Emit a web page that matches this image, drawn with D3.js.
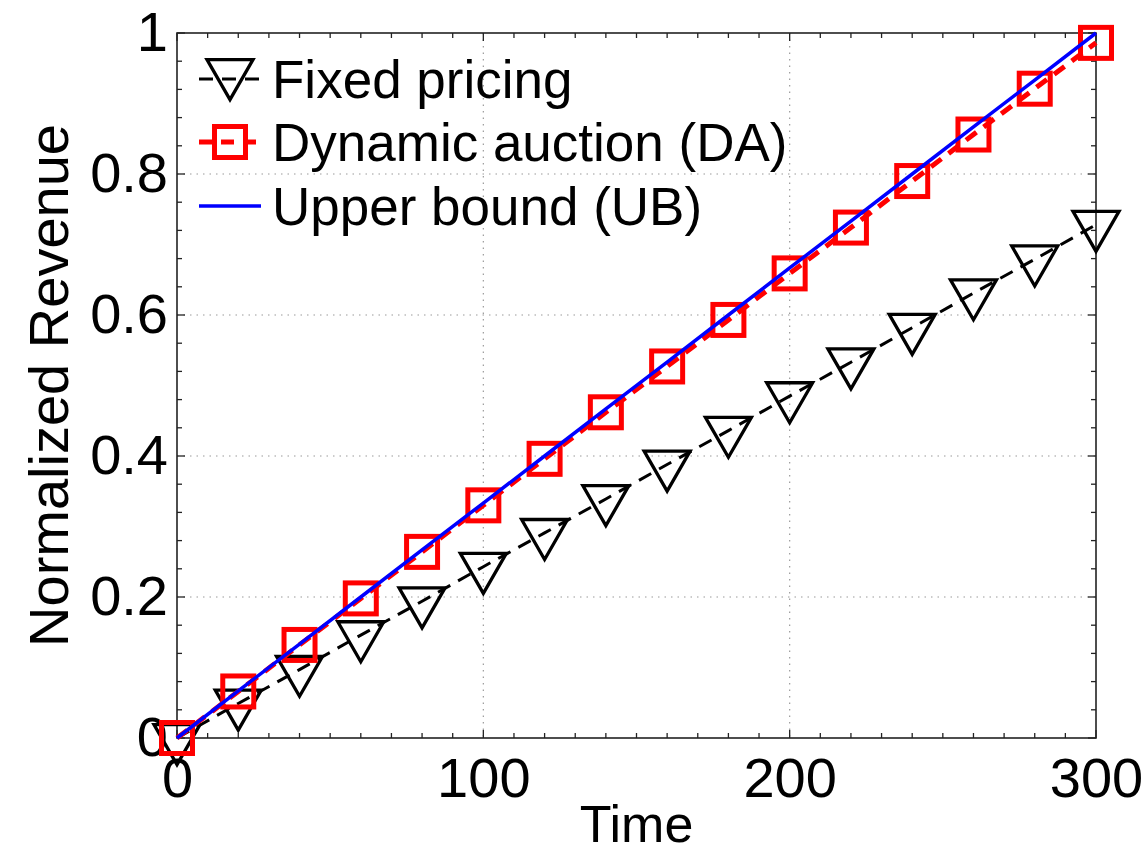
<!DOCTYPE html>
<html><head><meta charset="utf-8">
<script src="https://cdn.jsdelivr.net/npm/d3@7"></script>
<style>
html,body{margin:0;padding:0;background:#fff;}
svg{display:block;font-family:"Liberation Sans",Arial,Helvetica,sans-serif;}
</style></head>
<body><svg id="c" width="1145" height="854"></svg>
<script>
// ---- data ----
const timePoints = [0,20,40,60,80,100,120,140,160,180,200,220,240,260,280,300];
const fixedPricing = [0,0.049,0.097,0.146,0.194,0.243,0.291,0.339,0.388,0.436,0.485,0.533,0.582,0.631,0.679,0.728];
const dynamicAuction = [0,0.066,0.132,0.198,0.264,0.330,0.396,0.462,0.527,0.593,0.659,0.724,0.790,0.856,0.921,0.986];
const upperBound = [0,0.0667,0.1333,0.2,0.2667,0.3333,0.4,0.4667,0.5333,0.6,0.6667,0.7333,0.8,0.8667,0.9333,1];
const xTicks = [0,100,200,300];
const yTicks = [0,0.2,0.4,0.6,0.8,1];
const yTickLabels = ["0","0.2","0.4","0.6","0.8","1"];
const seriesNames = ["Fixed pricing","Dynamic auction (DA)","Upper bound (UB)"];

const svg = d3.select("#c");
const L=177,R=1096,T=33,B=738;
const x = d3.scaleLinear().domain([0,300]).range([L,R]);
const y = d3.scaleLinear().domain([0,1]).range([B,T]);
const axisColor="#222";

// grid
const grid = svg.append("g").attr("stroke","#9a9a9a").attr("stroke-width",1.2).attr("stroke-dasharray","1.5,5");
xTicks.filter(v=>v>0&&v<300).forEach(v=>grid.append("line").attr("x1",x(v)).attr("x2",x(v)).attr("y1",T).attr("y2",B));
yTicks.filter(v=>v>0&&v<1).forEach(v=>grid.append("line").attr("x1",L).attr("x2",R).attr("y1",y(v)).attr("y2",y(v)));

// ticks (inward, all four sides)
const tk = svg.append("g").attr("stroke",axisColor).attr("stroke-width",1.3);
d3.range(0,301,10).forEach(v=>{
  const major = v%100===0, len = major?8:5;
  tk.append("line").attr("x1",x(v)).attr("x2",x(v)).attr("y1",B).attr("y2",B-len);
  tk.append("line").attr("x1",x(v)).attr("x2",x(v)).attr("y1",T).attr("y2",T+len);
});
d3.range(0,26).map(i=>i*0.04).forEach((v,i)=>{
  const major = i%5===0, len = major?8:5;
  tk.append("line").attr("x1",L).attr("x2",L+len).attr("y1",y(v)).attr("y2",y(v));
  tk.append("line").attr("x1",R).attr("x2",R-len).attr("y1",y(v)).attr("y2",y(v));
});
svg.append("rect").attr("x",L).attr("y",T).attr("width",R-L).attr("height",B-T)
  .attr("fill","none").attr("stroke",axisColor).attr("stroke-width",1.6);

// tick labels via axes
const xAxis = svg.append("g").attr("transform",`translate(0,${B})`)
  .call(d3.axisBottom(x).tickValues(xTicks).tickSize(0).tickPadding(19).tickFormat(d3.format("d")));
xAxis.select(".domain").remove();
xAxis.selectAll("text").attr("font-size",56).attr("fill","#000").attr("font-family","Liberation Sans, Arial, sans-serif");
const yAxis = svg.append("g").attr("transform",`translate(${L},0)`)
  .call(d3.axisLeft(y).tickValues(yTicks).tickSize(0).tickPadding(9).tickFormat((d,i)=>yTickLabels[i]));
yAxis.select(".domain").remove();
yAxis.selectAll("text").attr("font-size",56).attr("fill","#000").attr("font-family","Liberation Sans, Arial, sans-serif");

// axis titles
svg.append("text").attr("x",(L+R)/2).attr("y",842).attr("text-anchor","middle")
  .attr("font-size",52).text("Time");
svg.append("text").attr("transform",`translate(68,${(T+B)/2}) rotate(-90)`).attr("text-anchor","middle")
  .attr("font-size",56).text("Normalized Revenue");

// series
const line = d3.line().x(d=>x(d[0])).y(d=>y(d[1]));
const fixedData = timePoints.map((t,i)=>[t,fixedPricing[i]]);
const daData = timePoints.map((t,i)=>[t,dynamicAuction[i]]);
const ubData = timePoints.map((t,i)=>[t,upperBound[i]]);

const tri = (cx,cy)=>{ // centroid at data point
  const w=23,h=40;
  return `M${cx-w},${cy-h/3}L${cx+w},${cy-h/3}L${cx},${cy+2*h/3}Z`;
};
const sq = 15.5;

svg.append("path").datum(fixedData).attr("d",line).attr("fill","none")
  .attr("stroke","#000").attr("stroke-width",3).attr("stroke-dasharray","14,9");
svg.append("g").selectAll("path").data(fixedData).join("path")
  .attr("d",d=>tri(x(d[0]),y(d[1]))).attr("fill","none").attr("stroke","#000").attr("stroke-width",3.3).attr("stroke-linejoin","miter");

svg.append("path").datum(daData).attr("d",line).attr("fill","none")
  .attr("stroke","#ff0000").attr("stroke-width",5).attr("stroke-dasharray","13,9");
svg.append("g").selectAll("rect").data(daData).join("rect")
  .attr("x",d=>x(d[0])-sq).attr("y",d=>y(d[1])-sq).attr("width",2*sq).attr("height",2*sq)
  .attr("fill","none").attr("stroke","#ff0000").attr("stroke-width",5);

svg.append("path").datum(ubData).attr("d",line).attr("fill","none")
  .attr("stroke","#0000ff").attr("stroke-width",3.5);

// legend
const lg = svg.append("g");
const rows = [79,142,206];
const lx1=199,lx2=261,lcx=230;
lg.append("line").attr("x1",lx1).attr("x2",lx2).attr("y1",rows[0]).attr("y2",rows[0])
  .attr("stroke","#000").attr("stroke-width",3).attr("stroke-dasharray","14,9");
lg.append("path").attr("d",tri(lcx,rows[0]-6)).attr("fill","none").attr("stroke","#000").attr("stroke-width",3.3);
lg.append("line").attr("x1",lx1).attr("x2",lx2).attr("y1",rows[1]).attr("y2",rows[1])
  .attr("stroke","#ff0000").attr("stroke-width",5).attr("stroke-dasharray","13,9");
lg.append("rect").attr("x",lcx-sq).attr("y",rows[1]-sq).attr("width",2*sq).attr("height",2*sq)
  .attr("fill","none").attr("stroke","#ff0000").attr("stroke-width",5);
lg.append("line").attr("x1",lx1).attr("x2",lx2).attr("y1",rows[2]).attr("y2",rows[2])
  .attr("stroke","#0000ff").attr("stroke-width",3.5);
seriesNames.forEach((n,i)=>{
  lg.append("text").attr("x",272).attr("y",rows[i]+19).attr("font-size",53).attr("fill","#000").text(n);
});
</script></body></html>
